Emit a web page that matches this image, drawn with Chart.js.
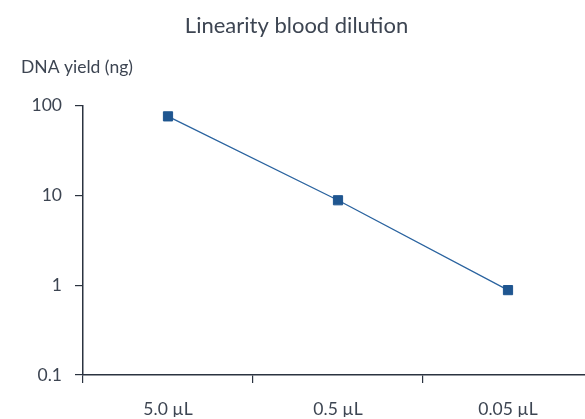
<!DOCTYPE html>
<html>
<head>
<meta charset="utf-8">
<script src="https://cdn.jsdelivr.net/npm/chart.js@4/dist/chart.umd.min.js"></script>
<style>
  html, body { margin: 0; padding: 0; background: #fff; overflow: hidden; }
  #wrap { width: 604px; height: 419px; }
</style>
</head>
<body>
<div id="wrap"><canvas id="dilutionChart" width="604" height="419"></canvas></div>
<script>
// data
const categories = ['5.0 µL', '0.5 µL', '0.05 µL'];
const dnaYield = [75.5, 8.8, 0.88];
const yTicks = [0.1, 1, 10, 100];

const textColor = '#3d4552';
const axisColor = '#2b3340';
const fontFamily = 'Lato, "Open Sans", sans-serif';

// horizontal y-axis caption above the axis
const yCaption = {
  id: 'yCaption',
  afterDraw(chart) {
    const c = chart.ctx;
    c.save();
    c.font = '17.5px ' + fontFamily;
    c.fillStyle = textColor;
    c.textBaseline = 'middle';
    c.textAlign = 'left';
    c.fillText('DNA yield (ng)', chart.chartArea.left - 62, 67);
    c.restore();
  }
};

const ctx = document.getElementById('dilutionChart').getContext('2d');
new Chart(ctx, {
  type: 'line',
  data: {
    labels: categories,
    datasets: [{
      data: dnaYield,
      borderColor: '#2a639f',
      borderWidth: 1.3,
      backgroundColor: '#1f5690',
      pointStyle: 'rect',
      pointRadius: 6.5,
      pointBorderWidth: 1,
      pointBorderColor: '#1f5690',
      tension: 0
    }]
  },
  options: {
    responsive: false,
    animation: false,
    layout: { padding: { left: 0, right: 11, top: 0, bottom: 2 } },
    plugins: {
      legend: { display: false },
      tooltip: { enabled: false },
      title: {
        display: true,
        text: 'Linearity blood dilution',
        color: textColor,
        font: { family: fontFamily, size: 22, weight: 'normal' },
        padding: { top: 13, bottom: 66 }
      }
    },
    scales: {
      x: {
        type: 'category',
        offset: true,
        afterFit: s => { s.height = 42; },
        grid: { offset: true, drawOnChartArea: false, drawTicks: true, tickLength: 8, color: axisColor, lineWidth: 1.2 },
        border: { display: true, color: axisColor, width: 1.5 },
        ticks: { color: textColor, padding: 16, font: { family: fontFamily, size: 17.5 } }
      },
      y: {
        type: 'logarithmic',
        min: 0.1,
        max: 100,
        afterBuildTicks: s => { s.ticks = yTicks.map(v => ({ value: v })); },
        afterFit: s => { s.width = 83; },
        grid: { drawOnChartArea: false, drawTicks: true, tickLength: 8, color: axisColor, lineWidth: 1.2 },
        border: { display: true, color: axisColor, width: 1.5 },
        ticks: {
          color: textColor,
          padding: 13,
          font: { family: fontFamily, size: 17.5 },
          callback: v => String(v)
        }
      }
    }
  },
  plugins: [yCaption]
});
</script>
</body>
</html>
